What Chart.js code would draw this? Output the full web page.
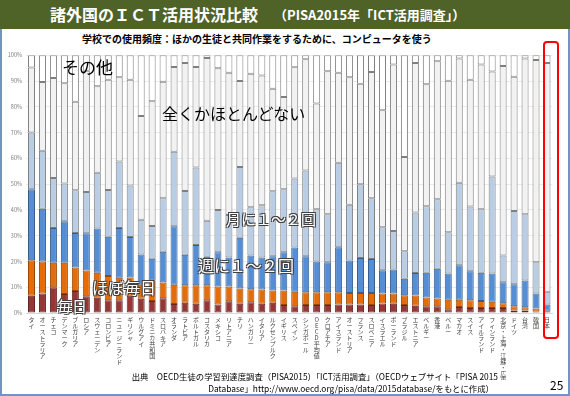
<!DOCTYPE html>
<html lang="ja">
<head>
<meta charset="utf-8">
<script src="https://cdn.jsdelivr.net/npm/chart.js@4.4.1/dist/chart.umd.min.js"></script>
<style>
body { margin:0; width:570px; height:396px; position:relative; overflow:hidden; background:#fff; font-family:"Noto Sans CJK JP", sans-serif; }
#rahmen { position:absolute; left:0; top:0; width:570px; height:396px; box-sizing:border-box; border:2px solid #6f94c8; }
#titel { position:absolute; left:0; top:0; width:570px; height:29px; background:#4F6228; color:#fff; font-weight:bold; white-space:nowrap; }
#titel .t1 { position:absolute; left:50px; top:3px; font-size:16px; line-height:22px; }
#titel .t2 { position:absolute; left:274px; top:5px; font-size:13px; line-height:20px; }
#untertitel { position:absolute; left:82px; top:32px; font-size:10px; line-height:14px; font-weight:bold; color:#000; white-space:nowrap; }
#chart { position:absolute; left:0; top:48px; }
.anm { position:absolute; white-space:nowrap; line-height:1; }
.schwarz { color:#000; }
.weiss { color:#fff; text-shadow:-1px -1px 0 #404040, 1px -1px 0 #404040, -1px 1px 0 #404040, 1px 1px 0 #404040; }
#japan { position:absolute; left:543px; top:41px; width:16px; height:298px; box-sizing:border-box; border:2px solid #f00; border-radius:4px; }
.quelle { position:absolute; font-size:8.4px; line-height:12px; color:#000; white-space:nowrap; text-align:right; }
#seite { position:absolute; left:550px; top:378px; font-size:12px; line-height:14px; color:#000; }
</style>
</head>
<body>
<div id="rahmen"></div>
<div id="titel"><span class="t1">諸外国のＩＣＴ活用状況比較</span><span class="t2">（PISA2015年「ICT活用調査」）</span></div>
<div id="untertitel">学校での使用頻度：ほかの生徒と共同作業をするために、コンピュータを使う</div>
<canvas id="chart" width="554" height="332"></canvas>
<div class="anm schwarz" style="left:62px;top:58px;font-size:17px;">その他</div>
<div class="anm schwarz" style="left:162px;top:105px;font-size:16px;">全くかほとんどない</div>
<div class="anm weiss" style="left:226px;top:211px;font-size:15px;">月に１～２回</div>
<div class="anm weiss" style="left:198px;top:257px;font-size:16px;">週に１～２回</div>
<div class="anm weiss" style="left:92px;top:279px;font-size:16px;">ほぼ毎日</div>
<div class="anm weiss" style="left:57px;top:298px;font-size:15px;">毎日</div>
<div id="japan"></div>
<div class="quelle" style="right:72px;top:370px;">出典　OECD生徒の学習到達度調査（PISA2015）「ICT活用調査」（OECDウェブサイト「PISA 2015</div>
<div class="quelle" style="right:76px;top:382px;">Database」http://www.oecd.org/pisa/data/2015database/をもとに作成）</div>
<div id="seite">25</div>
<script>
//Daten
var laender = ["タイ", "オーストラリア", "チェコ", "デンマーク", "ブルガリア", "ロシア", "スウェーデン", "コロンビア",
    "ニュージーランド", "ギリシャ", "ウルグアイ", "ドミニカ共和国", "スロバキア", "オランダ", "ラトビア", "ポルトガル",
    "コスタリカ", "メキシコ", "リトアニア", "チリ", "ハンガリー", "イタリア", "ルクセンブルク", "イギリス",
    "スペイン", "シンガポール", "OECD平均値", "クロアチア", "アイスランド", "オーストリア", "フランス", "スロベニア",
    "イスラエル", "ポーランド", "ブラジル", "エストニア", "ベルギー", "香港", "ペルー", "マカオ",
    "スイス", "アイルランド", "フィンランド", "北京・上海・江蘇・広東", "ドイツ", "台湾", "韓国", "日本"];
//毎日
var taeglich = [6.7, 7.6, 10, 7.4, 8.5, 6.5, 5.9, 4.9, 4.9, 6.7, 5.5, 4.7, 5.7, 3.5, 4, 3.6,
    4.9, 3.3, 4.6, 3.6, 4.2, 3.6, 4, 3.1, 2.6, 3.1, 3.1, 3.1, 3.3, 3.3, 3.3, 3.1,
    3.7, 3.6, 3.1, 2.8, 2.6, 2.6, 1.5, 2.3, 1.9, 1.9, 1.9, 1.9, 1, 1, 0.6, 0.5];
//ほぼ毎日
var fastTaeglich = [13.8, 12.4, 9.5, 12.1, 9.2, 10, 9.7, 9.5, 8.8, 7.1, 5.5, 7.8, 6.1, 7.5, 6.8, 7.2,
    5.9, 7, 5.7, 5.9, 5, 5.5, 4.7, 5.6, 5.6, 5, 5, 5, 4.8, 4.5, 4.5, 4.7,
    3.9, 4, 3.8, 4, 3.4, 3, 3.6, 2.8, 3, 2.8, 2.5, 1.9, 1.6, 1.2, 1.1, 0.4];
//週に1～2回
var woechentlich = [27.5, 20.5, 13.5, 16.1, 13.3, 14.4, 17.2, 15.2, 19.3, 15.7, 11.7, 8.6, 12, 22.7, 11.8, 15.6,
    11, 13.3, 11.2, 19.7, 13.1, 12.4, 13.3, 14.9, 17.2, 13.9, 11.9, 11.6, 17.4, 12.6, 13.5, 13.2,
    9, 9.3, 6.4, 8.7, 9.6, 11.6, 10.2, 13.4, 11.3, 10.9, 10.9, 8.1, 8.6, 10.4, 5.9, 2.4];
//月に1～2回
var monatlich = [22, 22.5, 19.4, 14.7, 16.6, 16.1, 21.6, 18.1, 25.8, 20, 13.5, 12.7, 20.7, 28.9, 24.7, 30.1,
    14, 16.4, 16.5, 27.5, 18.7, 20.3, 25.2, 24.4, 26.8, 33.3, 20.3, 18.6, 32.8, 21.6, 28.7, 23.5,
    16.7, 14.9, 10.7, 23.5, 25.8, 26.9, 16, 32, 25.1, 24.7, 37.7, 10.4, 28.4, 25.7, 12.1, 4.9];
//全くかほとんどない
var nie = [25.3, 26.6, 38.8, 38.9, 34.4, 47, 33.6, 42.8, 32.7, 41, 40.2, 48.4, 45.2, 32.9, 49.7, 39,
    63.2, 55, 55.2, 33.3, 51.8, 50.4, 39.8, 35.8, 43.2, 43.2, 41, 55.5, 34.9, 49.5, 39, 49,
    45.4, 64.6, 36.5, 58, 47.4, 53.6, 58.8, 48.3, 49.2, 56.1, 40.7, 73.5, 52.1, 60.5, 78.5, 88.8];
//その他
var sonstige = [4.7, 10.4, 8.8, 10.8, 18, 6, 12, 9.5, 8.5, 9.5, 23.6, 17.8, 10.3, 4.5, 3, 4.5,
    1, 5, 6.8, 10, 7.2, 7.8, 13, 16.2, 4.6, 1.5, 18.7, 6.2, 6.8, 8.5, 11, 6.5,
    21.3, 3.6, 39.5, 3, 11.2, 2.3, 9.9, 1.2, 9.5, 3.6, 6.3, 4.2, 8.3, 1.2, 1.8, 3];

var schrift = "'Noto Sans CJK JP', sans-serif";

//Datensatz erstellen
function reihe(name, werte, farbe, rand) {
    return {
        label: name,
        data: werte,
        backgroundColor: farbe,
        borderColor: rand,
        borderWidth: 1,
        borderSkipped: false,
        barPercentage: 0.64,
        categoryPercentage: 1
    };
}

//Beschriftung senkrecht: ein Zeichen pro Zeile
var beschriftung = laender.map(l => l.split(""));

var canvas = document.getElementById("chart");
var myChart = new Chart(canvas, {
    type: "bar",
    data: {
        labels: beschriftung,
        datasets: [
            reihe("毎日", taeglich, "#953735", "#632523"),
            reihe("ほぼ毎日", fastTaeglich, "#E46C0A", "#984807"),
            reihe("週に1～2回", woechentlich, "#558ED5", "#385D8A"),
            reihe("月に1～2回", monatlich, "#B9CDE5", "#7F7F7F"),
            reihe("全くかほとんどない", nie, "#F2F2F2", "#7F7F7F"),
            reihe("その他", sonstige, "#FFFFFF", "#7F7F7F")
        ]
    },
    options: {
        responsive: false,
        animation: false,
        layout: { padding: { top: 5, right: 0, bottom: 0, left: 0 } },
        plugins: {
            legend: { display: false },
            tooltip: { enabled: false }
        },
        scales: {
            x: {
                stacked: true,
                grid: { display: false, drawTicks: false },
                border: { display: true, color: "#D9D9D9" },
                ticks: {
                    autoSkip: false,
                    maxRotation: 0,
                    minRotation: 0,
                    padding: 4,
                    color: "#404040",
                    font: { family: schrift, size: 6, lineHeight: 1 }
                },
                afterFit: function (s) { s.height = 67; }
            },
            y: {
                stacked: true,
                min: 0,
                max: 100,
                grid: { color: "#EBEBEB", drawTicks: false },
                border: { display: false },
                ticks: {
                    stepSize: 10,
                    padding: 4,
                    color: "#808080",
                    font: { family: schrift, size: 5.5 },
                    callback: function (v) { return v + "%"; }
                },
                afterFit: function (s) { s.width = 26; }
            }
        }
    }
});
</script>
</body>
</html>
